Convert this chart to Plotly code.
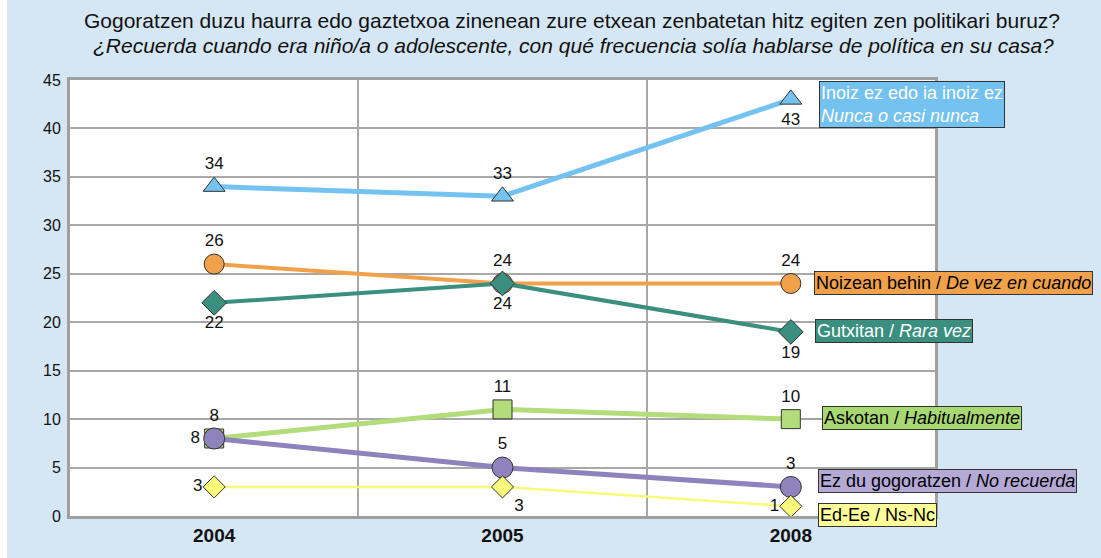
import plotly.graph_objects as go

years = ["2004", "2005", "2008"]
xpos = [0, 1, 2]

series_names = [
    "Inoiz ez edo ia inoiz ez<br><i>Nunca o casi nunca</i>",
    "Noizean behin / <i>De vez en cuando</i>",
    "Gutxitan / <i>Rara vez</i>",
    "Askotan / <i>Habitualmente</i>",
    "Ez du gogoratzen / <i>No recuerda</i>",
    "Ed-Ee / Ns-Nc",
]
inoiz = [34, 33, 43]
noizean = [26, 24, 24]
gutxitan = [22, 24, 19]
askotan = [8, 11, 10]
ezdu = [8, 5, 3]
edee = [3, 3, 1]
values = [inoiz, noizean, gutxitan, askotan, ezdu, edee]

title1 = "Gogoratzen duzu haurra edo gaztetxoa zinenean zure etxean zenbatetan hitz egiten zen politikari buruz?"
title2 = "<i>¿Recuerda cuando era niño/a o adolescente, con qué frecuencia solía hablarse de política en su casa?</i>"

colors = ["#74c2ef", "#f0a14a", "#3a8f7f", "#b3dc7a", "#8f83bd", "#fafa7a"]
box_colors = ["#74c2ef", "#f0a14a", "#3a8f7f", "#a8d872", "#b5a9d6", "#ffff99"]
box_font = ["white", "black", "white", "black", "black", "black"]
symbols = ["triangle-up", "circle", "diamond", "square", "circle", "diamond"]
msizes = [19, 20, 19, 19, 21, 17]
lwidths = [5, 4, 4, 5, 5, 2.5]
textpos = [
    ["top center", "top center", "bottom center"],
    ["top center", "top center", "top center"],
    ["bottom center", "bottom center", "bottom center"],
    ["top center", "top center", "top center"],
    ["middle left", "top center", "top center"],
    ["middle left", "bottom right", "middle left"],
]
# legend box positions (pixel left edge, data y centre)
box_left_px = [819, 814, 815, 822, 818, 818]
box_y = [42.5, 24.0, 19.05, 10.1, 3.6, 0.1]

FONT = "Arial, Liberation Sans, sans-serif"
L, R, T, B = 70, 166, 80, 36
W, H = 1101, 558
PW = W - L - R
PH = H - T - B

fig = go.Figure()
for i in range(6):
    fig.add_trace(go.Scatter(
        x=xpos, y=values[i], mode="lines+markers+text",
        line=dict(color=colors[i], width=lwidths[i]),
        marker=dict(symbol=symbols[i], size=msizes[i], color=colors[i],
                    line=dict(color="#333333", width=1)),
        text=[str(v) for v in values[i]], textposition=textpos[i],
        textfont=dict(size=17, color="#111111", family=FONT),
        showlegend=False, cliponaxis=False,
    ))

annotations = []
for i in range(6):
    annotations.append(dict(
        xref="paper", yref="y", x=(box_left_px[i] - L) / PW, y=box_y[i],
        xanchor="left", yanchor="middle", text=series_names[i], showarrow=False,
        align="left", bgcolor=box_colors[i], bordercolor="#333333", borderwidth=1,
        borderpad=1, font=dict(size=18, color=box_font[i], family=FONT),
    ))

annotations.append(dict(
    xref="paper", yref="paper", x=(572 - L) / PW, y=(H - B - 20) / PH,
    text=title1, showarrow=False, xanchor="center", yanchor="middle",
    font=dict(size=21, color="#111111", family=FONT),
))
annotations.append(dict(
    xref="paper", yref="paper", x=(573 - L) / PW, y=(H - B - 45) / PH,
    text=title2, showarrow=False, xanchor="center", yanchor="middle",
    font=dict(size=21, color="#111111", family=FONT),
))

shapes = [
    dict(type="rect", xref="paper", yref="paper",
         x0=(0 - L) / PW, x1=(7 - L) / PW, y0=-0.2, y1=1.3,
         fillcolor="white", line=dict(width=0), layer="below"),
    # leader line from the last Askotan marker to its label box
    dict(type="line", xref="x", yref="y", xsizemode="pixel", xanchor=xpos[-1],
         x0=10, x1=box_left_px[3] - 790, y0=askotan[-1], y1=askotan[-1],
         line=dict(color="#a0a0a0", width=1.5), layer="above"),
]

fig.update_layout(
    width=W, height=H,
    margin=dict(l=L, r=R, t=T, b=B),
    paper_bgcolor="#d5e7f5", plot_bgcolor="white",
    font=dict(family=FONT, size=16, color="#111111"),
    annotations=annotations, shapes=shapes,
    xaxis=dict(range=[-0.5, 2.5], tickvals=xpos, ticktext=["<b>%s</b>" % y for y in years],
               tickfont=dict(size=19, color="#111111"), showgrid=False, zeroline=False,
               showline=True, linecolor="#a0a0a0", linewidth=3, mirror=True,
               ticks="", fixedrange=True,
               minor=dict(tickvals=[0.5, 1.5], showgrid=True, gridcolor="#a8a8a8", gridwidth=1.5)),
    yaxis=dict(range=[0, 45], dtick=5, tickfont=dict(size=16, color="#111111"),
               showgrid=True, gridcolor="#a8a8a8", gridwidth=1.5, zeroline=False,
               showline=True, linecolor="#a0a0a0", linewidth=3, mirror=True,
               ticks="outside", ticklen=3, tickcolor="rgba(0,0,0,0)", fixedrange=True),
)

fig.write_html("out.html", config={"displayModeBar": False},
               post_script="document.body.style.margin='0';")
